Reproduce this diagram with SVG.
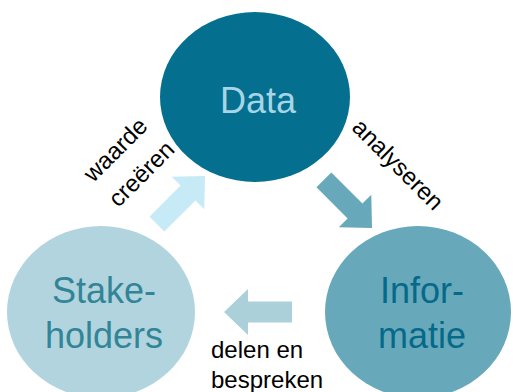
<svg xmlns="http://www.w3.org/2000/svg" width="513" height="392" viewBox="0 0 513 392">
  <defs>
    <style>
      .node-label { font-family: "Liberation Sans", Arial, sans-serif; font-size: 36px; text-anchor: middle; }
      .edge-label { font-family: "Liberation Sans", Arial, sans-serif; font-size: 24px; fill: #000000; }
    </style>
    <!-- block arrow pointing along +x, tip at the origin -->
    <polygon id="block-arrow" points="0,0 -24,-23 -24,-10.5 -68,-10.5 -68,10.5 -24,10.5 -24,23"/>
  </defs>

  <rect width="513" height="392" fill="#ffffff"/>

  <g id="node-data">
    <ellipse cx="255" cy="97" rx="95" ry="85" fill="#046f8f"/>
    <text class="node-label" x="258" y="113" fill="#a6d6e6">Data</text>
  </g>

  <g id="node-informatie">
    <ellipse cx="418" cy="312" rx="93" ry="86" fill="#67a9ba"/>
    <text class="node-label" x="422" y="303" fill="#05698a">Infor-</text>
    <text class="node-label" x="422" y="348" fill="#05698a">matie</text>
  </g>

  <g id="node-stakeholders">
    <ellipse cx="101" cy="312" rx="94" ry="86" fill="#b2d4de"/>
    <text class="node-label" x="104" y="303" fill="#318597">Stake-</text>
    <text class="node-label" x="104" y="348" fill="#318597">holders</text>
  </g>

  <g id="connectors">
    <!-- Data -> Informatie -->
    <use href="#block-arrow" transform="translate(372,228) rotate(45)" fill="#67a9ba"/>
    <!-- Informatie -> Stakeholders -->
    <use href="#block-arrow" transform="translate(224,312) rotate(180)" fill="#abd0da"/>
    <!-- Stakeholders -> Data -->
    <use href="#block-arrow" transform="translate(205,176) rotate(-45)" fill="#c6ebf7"/>

    <g id="connector-labels">
      <text class="edge-label" transform="rotate(45)" x="339" y="-157">analyseren</text>
      <text class="edge-label" x="211" y="358">delen en</text>
      <text class="edge-label" x="211" y="388">bespreken</text>
      <text class="edge-label" transform="rotate(-45)" x="-63.6" y="195.6">waarde</text>
      <text class="edge-label" transform="rotate(-45)" x="-63.6" y="231">creëren</text>
    </g>
  </g>
</svg>
